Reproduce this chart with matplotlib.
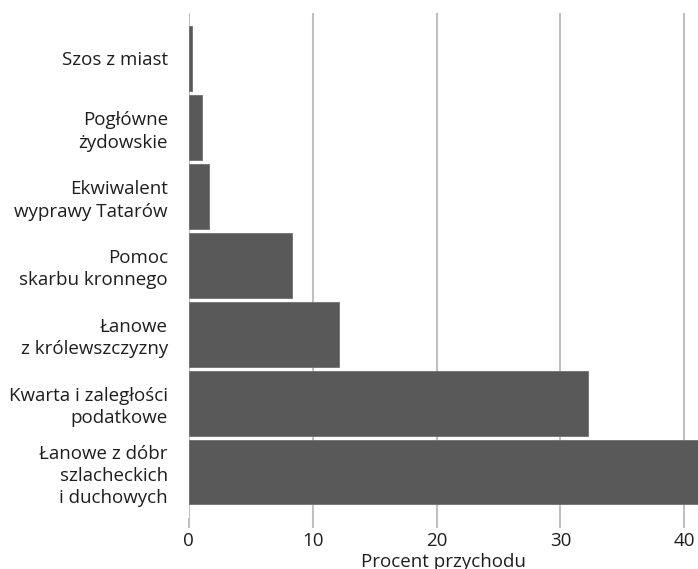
import numpy as np
import matplotlib.pyplot as plt

# Dane: udział w przychodach skarbu (procent)
categories = [
    "Szos z miast",
    "Pogłówne\nżydowskie",
    "Ekwiwalent\nwyprawy Tatarów",
    "Pomoc\nskarbu kronnego",
    "Łanowe\nz królewszczyzny",
    "Kwarta i zaległości\npodatkowe",
    "Łanowe z dóbr\nszlacheckich\ni duchowych",
]
values = [0.25, 1.1, 1.6, 8.3, 12.1, 32.2, 43.5]
xticks = [0, 10, 20, 30, 40]

plt.rcParams["font.family"] = ["Open Sans", "DejaVu Sans"]

fig = plt.figure(figsize=(6.98, 5.69), dpi=100)
ax = fig.add_axes([0.2705, 0.0905, 0.7295, 0.8866])

y = np.arange(len(categories))
ax.barh(y, values, height=0.94, color="#595959", edgecolor="#707070",
        linewidth=0.6, zorder=3)
ax.set_ylim(len(categories) - 1 + 0.659, -0.659)
ax.set_xlim(0, 41.1)

ax.set_yticks(y)
ax.set_yticklabels(categories, fontsize=13.5, color="#1e1e1e",
                   linespacing=1.3)
ax.set_xticks(xticks)
ax.set_xticklabels([str(t) for t in xticks], fontsize=13.5, color="#1e1e1e")
ax.tick_params(axis="y", length=0, pad=15)
ax.tick_params(axis="x", length=7.5, width=1.5, color="#c0c0c0", pad=3)

ax.grid(axis="x", color="#c0c0c0", linewidth=1.5, zorder=0)
for s in ax.spines.values():
    s.set_visible(False)

ax.set_xlabel("Procent przychodu", fontsize=13.5, color="#1e1e1e", labelpad=2)

fig.savefig("out.png", dpi=100)
